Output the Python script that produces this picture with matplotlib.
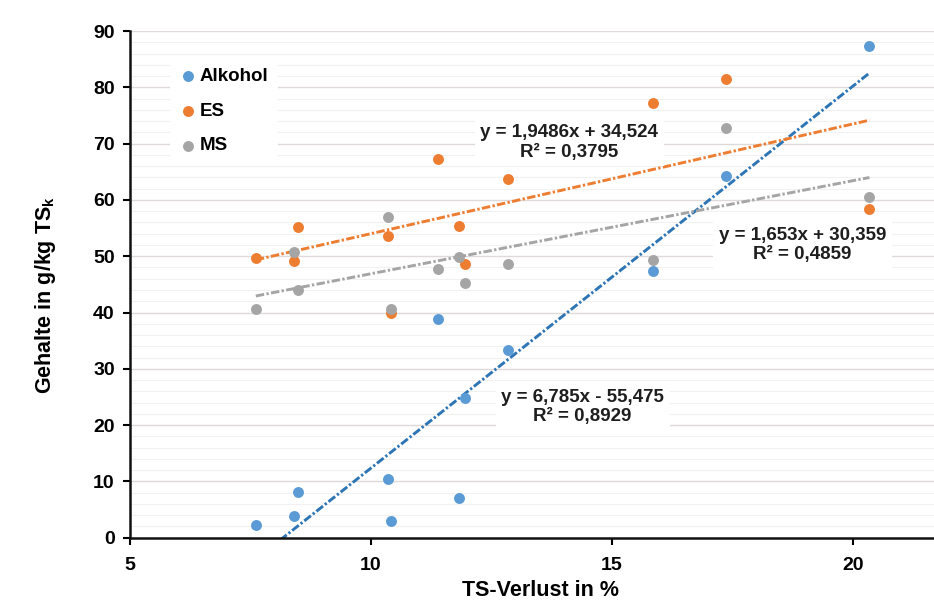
import numpy as np
import matplotlib
matplotlib.use('Agg')
import matplotlib.pyplot as plt
from matplotlib.ticker import MultipleLocator

plt.rcParams['font.family'] = ['Liberation Sans', 'DejaVu Sans']
plt.rcParams['mathtext.fontset'] = 'custom'
plt.rcParams['mathtext.rm'] = 'Liberation Sans:bold'
plt.rcParams['mathtext.bf'] = 'Liberation Sans:bold'

# TS-Verlust in % (same x for all series)
ts_verlust = [7.61, 8.40, 8.49, 10.36, 10.41, 11.40, 11.83, 11.96, 12.85, 15.86, 17.36, 20.34]
alkohol = [2.3, 3.9, 8.2, 10.4, 3.0, 38.8, 7.0, 24.9, 33.3, 47.4, 64.3, 87.3]
es = [49.6, 49.1, 55.1, 53.6, 39.9, 67.3, 55.4, 48.7, 63.7, 77.2, 81.4, 58.4]
ms = [40.6, 50.7, 44.0, 57.0, 40.7, 47.8, 49.8, 45.3, 48.6, 49.3, 72.7, 60.6]

series_names = ['Alkohol', 'ES', 'MS']
slopes = [6.785, 1.9486, 1.653]
intercepts = [-55.475, 34.524, 30.359]
eq_labels = ['y = 6,785x - 55,475\nR² = 0,8929',
             'y = 1,9486x + 34,524\nR² = 0,3795',
             'y = 1,653x + 30,359\nR² = 0,4859']
eq_pos = [(14.39, 23.2), (14.11, 70.2), (18.95, 52.0)]

point_colors = ['#5B9BD5', '#ED7D31', '#A5A5A5']
line_colors = ['#2E75B6', '#ED7D31', '#A5A5A5']

fig = plt.figure(figsize=(9.34, 6.01), dpi=100)
ax = fig.add_axes([0.1392, 0.1053, 0.8773, 0.8431])

x = np.array(ts_verlust)
xfit = np.array([x.min(), x.max()])
for name, yv, c, lc, m, b in zip(series_names, [alkohol, es, ms], point_colors, line_colors, slopes, intercepts):
    ax.scatter(x, yv, s=62, color=c, label=name, zorder=3, linewidths=0)
    ax.plot(xfit, m*xfit + b, color=lc, lw=2.1, linestyle=(0, (2.9, 0.8, 0.8, 0.8)), zorder=2)

for txt, (tx, ty) in zip(eq_labels, eq_pos):
    ax.text(tx, ty, txt, ha='center', va='center', multialignment='center',
            fontsize=13.5, fontweight='bold', color='#1e1e1e', linespacing=1.2,
            bbox=dict(facecolor='white', edgecolor='none', pad=4), zorder=4)

ax.set_xlim(5, 22)
ax.set_ylim(0, 90)
ax.xaxis.set_major_locator(MultipleLocator(5))
ax.yaxis.set_major_locator(MultipleLocator(10))
ax.yaxis.set_minor_locator(MultipleLocator(2))
ax.grid(axis='y', which='major', color='#e0d9d9', lw=1.0, zorder=0)
ax.grid(axis='y', which='minor', color='#f1f1f1', lw=0.8, zorder=0)
ax.set_axisbelow(True)

for s in ['top', 'right']:
    ax.spines[s].set_visible(False)
for s in ['left', 'bottom']:
    ax.spines[s].set_linewidth(1.8)
    ax.spines[s].set_color('#111111')

ax.tick_params(axis='both', which='major', direction='out', length=5, width=1.5, labelsize=14, pad=6)
ax.tick_params(axis='x', which='major', pad=9)
ax.tick_params(axis='y', which='minor', length=0)
for lab in ax.get_xticklabels() + ax.get_yticklabels():
    lab.set_fontweight('bold')

ax.set_xlabel('TS-Verlust in %', fontsize=15.5, fontweight='bold')
ax.set_ylabel(r'Gehalte in g/kg TS$_\mathregular{k}$', fontsize=15.5, fontweight='bold')
ax.xaxis.set_label_coords(0.5004, -0.084)
ax.yaxis.set_label_coords(-0.088, 0.479)

leg = ax.legend(loc='upper left', bbox_to_anchor=(0.037, 0.965), frameon=True, fancybox=False,
                edgecolor='none', facecolor='white', framealpha=1, handletextpad=0.1,
                borderpad=0.5, labelspacing=0.95, handlelength=1.0, scatterpoints=1,
                prop={'weight': 'bold', 'size': 13.5})

fig.savefig('out.png', dpi=100)
